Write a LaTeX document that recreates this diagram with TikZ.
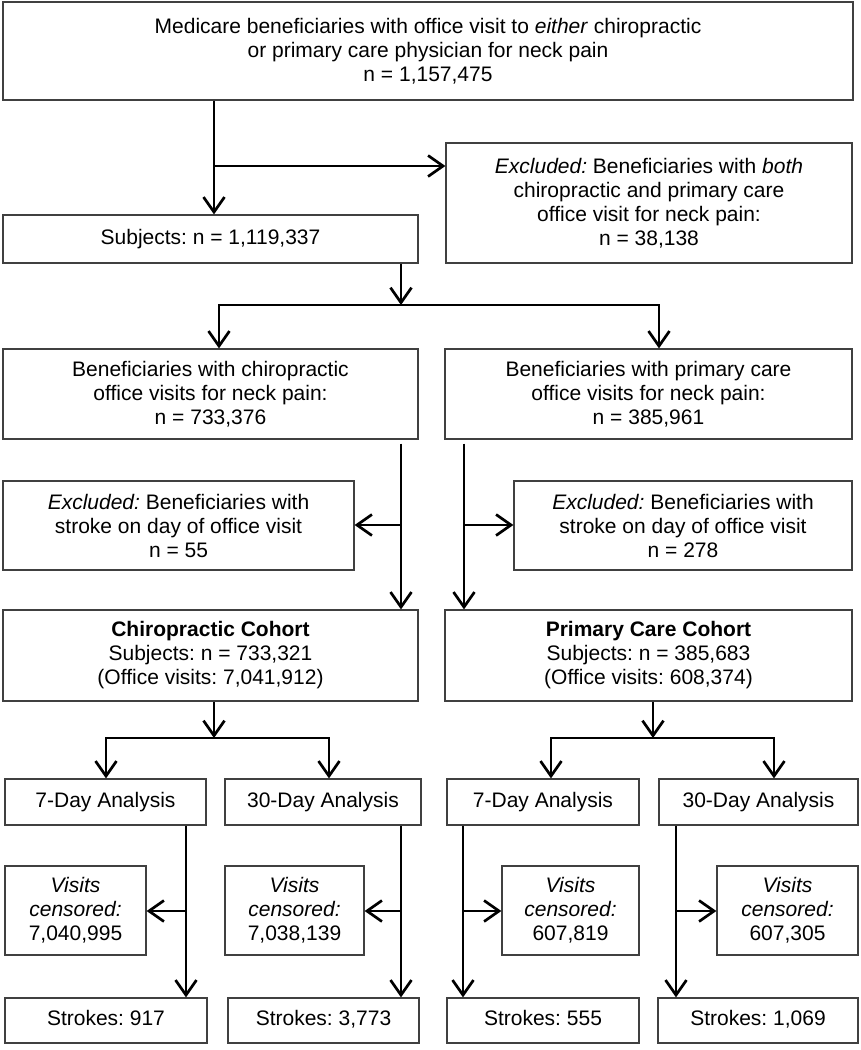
\documentclass[tikz,border=0pt]{standalone}
\usepackage{fontspec}
\setmainfont{Liberation Sans}
\usetikzlibrary{arrows.meta}
\newcommand\figfont{\fontsize{21}{24}\selectfont\frenchspacing}
\begin{document}
\frenchspacing
\begin{tikzpicture}[x=1pt,y=-1pt,
  box/.style={draw=black!75,line width=1.2pt,rectangle,inner sep=0pt,align=center,font=\figfont},
  one/.style={box,text height=15pt,text depth=4.5pt},
  line/.style={line width=2.7pt,black},
  arr/.style={line,-{Straight Barb[length=15pt,width=21pt]}}]
\fill[white] (0,0) rectangle (860,1050);
\useasboundingbox (0,0) rectangle (860,1050);
% boxes
\node[box,minimum width=850pt,minimum height=98pt] (top) at (428,51)
  {Medicare beneficiaries with office visit to \textit{either} chiropractic\\or primary care physician for neck pain\\n = 1,157,475};
\node[box,minimum width=406pt,minimum height=120pt] (excl1) at (649,203)
  {\textit{Excluded:} Beneficiaries with \textit{both}\\chiropractic and primary care\\office visit for neck pain:\\n = 38,138};
\node[one,minimum width=415pt,minimum height=48pt] (subj) at (210.5,239)
  {Subjects: n = 1,119,337};
\node[box,minimum width=415pt,minimum height=90pt] (chiro) at (210.5,394)
  {Beneficiaries with chiropractic\\office visits for neck pain:\\n = 733,376};
\node[box,minimum width=407pt,minimum height=90pt] (prim) at (648.5,394)
  {Beneficiaries with primary care\\office visits for neck pain:\\n = 385,961};
\node[box,minimum width=351pt,minimum height=89pt] (exclC) at (178.5,525.5)
  {\textit{Excluded:} Beneficiaries with\\stroke on day of office visit\\n = 55};
\node[box,minimum width=338pt,minimum height=89pt] (exclP) at (683,525.5)
  {\textit{Excluded:} Beneficiaries with\\stroke on day of office visit\\n = 278};
\node[box,minimum width=415pt,minimum height=91pt] (cohC) at (210.5,655.5)
  {\textbf{Chiropractic Cohort}\\Subjects: n = 733,321\\(Office visits: 7,041,912)};
\node[box,minimum width=407pt,minimum height=91pt] (cohP) at (648.5,655.5)
  {\textbf{Primary Care Cohort}\\Subjects: n = 385,683\\(Office visits: 608,374)};
\node[one,minimum width=201pt,minimum height=46pt] (a1) at (105.5,802) {7-Day Analysis};
\node[one,minimum width=196pt,minimum height=46pt] (a2) at (323,802) {30-Day Analysis};
\node[one,minimum width=192pt,minimum height=46pt] (a3) at (543,802) {7-Day Analysis};
\node[one,minimum width=199pt,minimum height=46pt] (a4) at (758.5,802) {30-Day Analysis};
\node[box,minimum width=141pt,minimum height=89pt] (v1) at (75.5,910.5) {\textit{Visits}\\\textit{censored:}\\7,040,995};
\node[box,minimum width=139pt,minimum height=89pt] (v2) at (294.5,910.5) {\textit{Visits}\\\textit{censored:}\\7,038,139};
\node[box,minimum width=137pt,minimum height=89pt] (v3) at (570.5,910.5) {\textit{Visits}\\\textit{censored:}\\607,819};
\node[box,minimum width=141pt,minimum height=89pt] (v4) at (787.5,910.5) {\textit{Visits}\\\textit{censored:}\\607,305};
\node[one,minimum width=202pt,minimum height=45pt] (s1) at (106,1020.5) {Strokes: 917};
\node[one,minimum width=191pt,minimum height=45pt] (s2) at (323.5,1020.5) {Strokes: 3,773};
\node[one,minimum width=192pt,minimum height=45pt] (s3) at (543,1020.5) {Strokes: 555};
\node[one,minimum width=200pt,minimum height=45pt] (s4) at (758,1020.5) {Strokes: 1,069};
% junctions
\coordinate (j1) at (214,166);
\coordinate (j2) at (401,305);
\coordinate (j2l) at (219,305);
\coordinate (j2r) at (659,305);
\coordinate (k1) at (401,525);
\coordinate (k2) at (464,525);
\coordinate (m1) at (214,738);
\coordinate (m1l) at (106,738);
\coordinate (m1r) at (329,738);
\coordinate (m2) at (653,738);
\coordinate (m2l) at (551,738);
\coordinate (m2r) at (774,738);
\coordinate (n1) at (186,911);
\coordinate (n2) at (401,911);
\coordinate (n3) at (463,911);
\coordinate (n4) at (676,911);
% connectors
\draw[arr] (top.south -| j1) -- (subj.north -| j1);
\draw[arr] (j1) -- (excl1.west |- j1);
\draw[arr] (subj.south -| j2) -- (j2);
\draw[arr] (j2) -- (j2l) -- (chiro.north -| j2l);
\draw[arr] (j2) -- (j2r) -- (prim.north -| j2r);
\draw[arr,shorten <=4pt] (chiro.south -| k1) -- (cohC.north -| k1);
\draw[arr] (k1) -- (exclC.east |- k1);
\draw[arr,shorten <=4pt] (prim.south -| k2) -- (cohP.north -| k2);
\draw[arr] (k2) -- (exclP.west |- k2);
\draw[arr] (cohC.south -| m1) -- (m1);
\draw[arr] (m1) -- (m1l) -- (a1.north -| m1l);
\draw[arr] (m1) -- (m1r) -- (a2.north -| m1r);
\draw[arr] (cohP.south -| m2) -- (m2);
\draw[arr] (m2) -- (m2l) -- (a3.north -| m2l);
\draw[arr] (m2) -- (m2r) -- (a4.north -| m2r);
\draw[arr] (a1.south -| n1) -- (s1.north -| n1);
\draw[arr] (n1) -- (v1.east |- n1);
\draw[arr] (a2.south -| n2) -- (s2.north -| n2);
\draw[arr] (n2) -- (v2.east |- n2);
\draw[arr] (a3.south -| n3) -- (s3.north -| n3);
\draw[arr] (n3) -- (v3.west |- n3);
\draw[arr] (a4.south -| n4) -- (s4.north -| n4);
\draw[arr] (n4) -- (v4.west |- n4);
\end{tikzpicture}
\end{document}
